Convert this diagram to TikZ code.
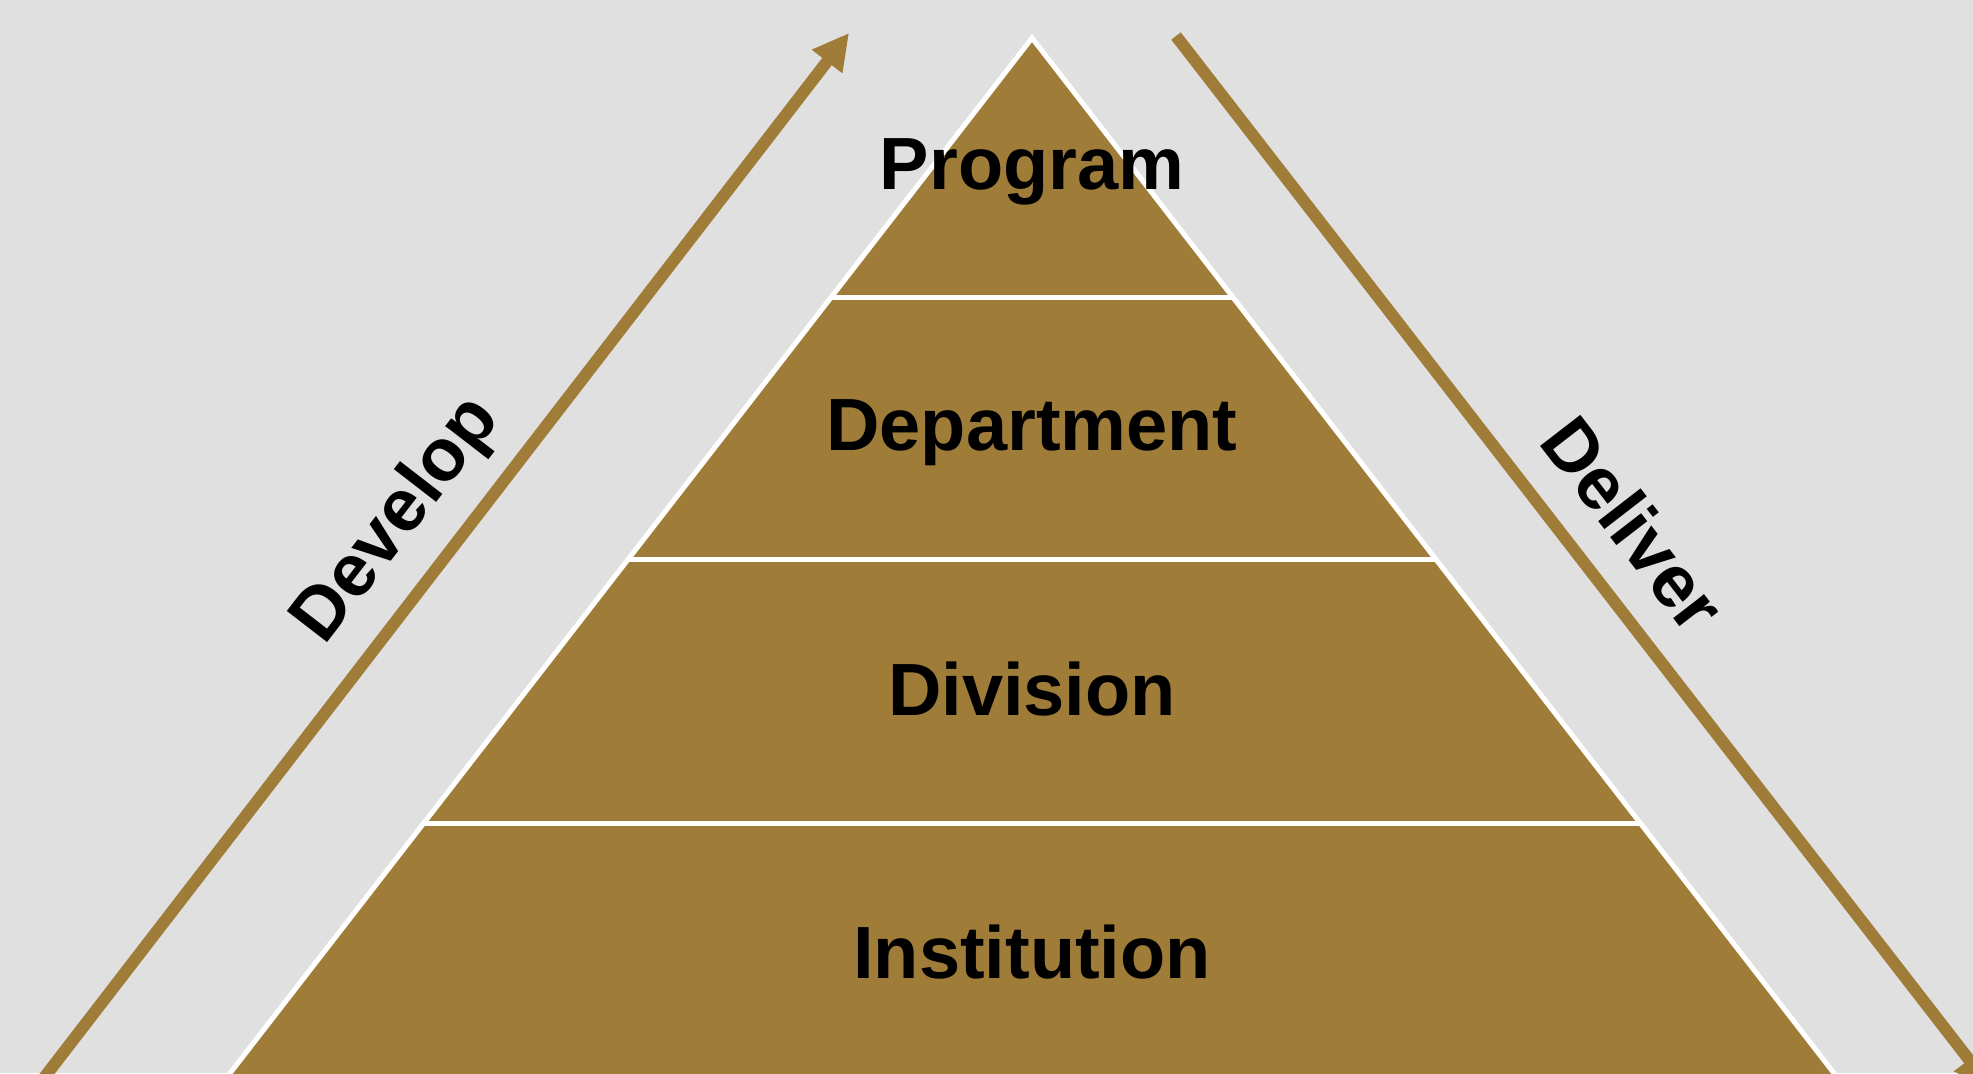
\documentclass[tikz,border=0pt]{standalone}
\usepackage{fontspec}
\setmainfont{Liberation Sans}
\usetikzlibrary{arrows.meta}
\definecolor{bg}{HTML}{E0E0E0}
\definecolor{gold}{HTML}{9F7D39}
\begin{document}
\begin{tikzpicture}[x=0.5pt,y=-0.5pt,
  lvl/.style={font=\fontsize{37}{44}\selectfont\bfseries, text=black, anchor=base, inner sep=0pt},
  side/.style={font=\fontsize{37}{44}\selectfont\bfseries, text=black, anchor=base, inner sep=0pt},
  flow/.style={draw=gold, line width=6pt, -{Triangle[length=18pt,width=18pt]}},
  band/.style={draw=white, line width=2.5pt}]
\useasboundingbox (0,0) rectangle (1973,1073);
\clip (0,0) rectangle (1973,1073);
\fill[bg] (0,0) rectangle (1973,1073);
% pyramid
\coordinate (apex) at (1032,38);
\coordinate (bl) at (217,1090);
\coordinate (br) at (1847,1090);
\filldraw[fill=gold, band, line join=miter] (apex) -- (br) -- (bl) -- cycle;
\coordinate (l1) at (829.6,297); \coordinate (r1) at (1234.4,297);
\coordinate (l2) at (627.2,559); \coordinate (r2) at (1436.8,559);
\coordinate (l3) at (423.2,823); \coordinate (r3) at (1640.8,823);
\draw[band] (l1) -- (r1);
\draw[band] (l2) -- (r2);
\draw[band] (l3) -- (r3);
% labels
\node[lvl] (prog) at (1032,189) {Program};
\node[lvl] (dept) at (1032,450) {Department};
\node[lvl] (div) at (1032,715) {Division};
\node[lvl] (inst) at (1032,978) {Institution};
% arrows
\coordinate (ds) at (40,1083);
\coordinate (de) at (849,33);
\draw[flow] (ds) -- (de);
\coordinate (vs) at (1176,36);
\coordinate (ve) at (1991,1088);
\draw[flow] (vs) -- (ve);
\node[side, rotate=52.3] (develop) at (413,533) {Develop};
\node[side, rotate=-52.3] (deliver) at (1613,540) {Deliver};
\end{tikzpicture}
\end{document}
